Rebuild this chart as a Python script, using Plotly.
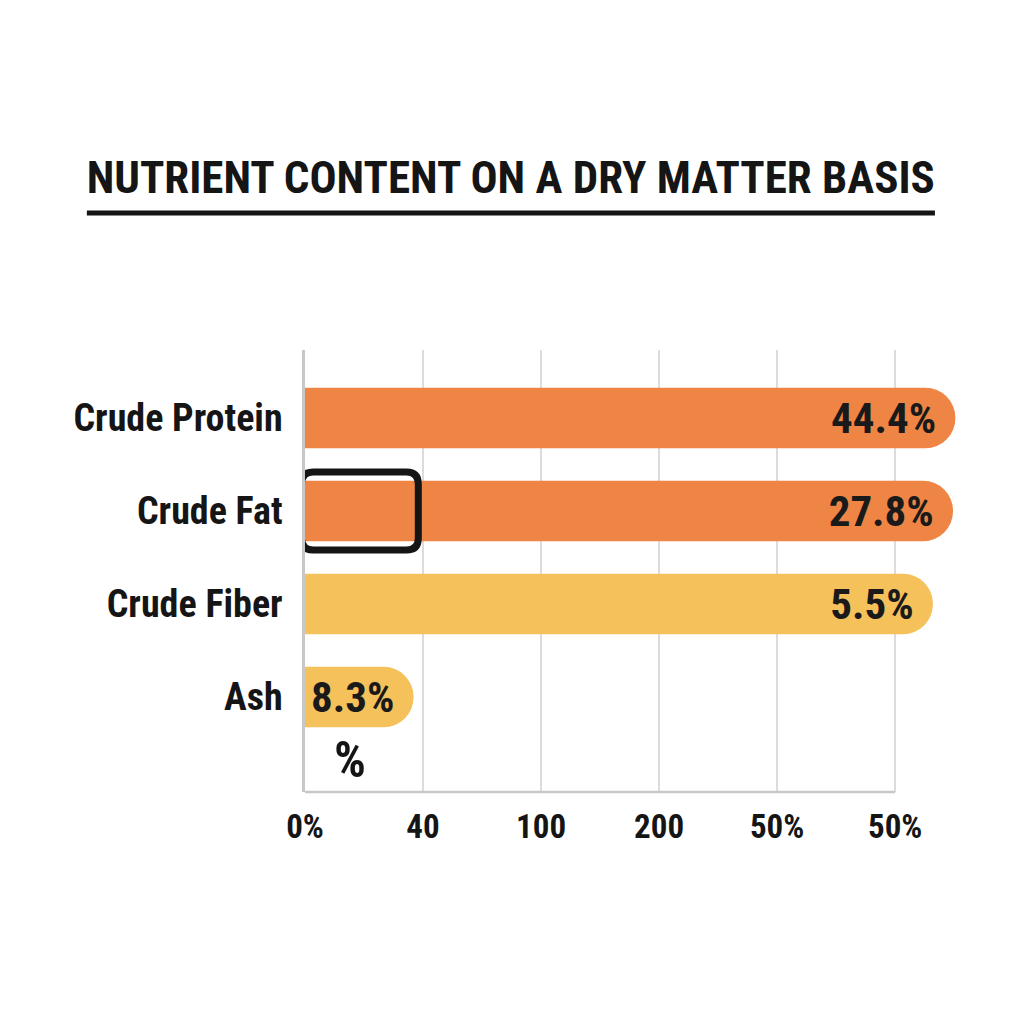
"""
Nutrient content on a dry matter basis - horizontal pill bars.
"""

import plotly.graph_objects as go

# DATA
categories = ["Crude Protein", "Crude Fat", "Crude Fiber", "Ash"]
bar_lengths = [5.51, 5.49, 5.32, 0.92]          # bar ends, read in gridline units
value_labels = ["44.4%", "27.8%", "5.5%", "8.3%"]
bar_colors = ["#EE8544", "#EE8544", "#F5C15B", "#F5C15B"]
tick_positions = [0, 1, 2, 3, 4, 5]
tick_labels = ["0%", "40", "100", "200", "50%", "50%"]

FONT = "Roboto Condensed, Liberation Sans Narrow, Roboto, sans-serif"

fig = go.Figure(go.Bar(
    y=categories,
    x=bar_lengths,
    orientation="h",
    width=0.65,
    marker=dict(color=bar_colors, line=dict(width=0), cornerradius="50%"),
    text=value_labels,
    textposition="inside",
    insidetextanchor="end",
    textfont=dict(family=FONT, size=43, color="#1a1a1a", weight="bold"),
    hoverinfo="skip",
))

# highlight box round the start of the Crude Fat bar
x0, x1, y0, y1 = -0.03, 0.96, 0.58, 1.42
rx, ry = 0.1, 0.13
box = (f"M {x0+rx},{y0} L {x1-rx},{y0} Q {x1},{y0} {x1},{y0+ry} "
       f"L {x1},{y1-ry} Q {x1},{y1} {x1-rx},{y1} L {x0+rx},{y1} "
       f"Q {x0},{y1} {x0},{y1-ry} L {x0},{y0+ry} Q {x0},{y0} {x0+rx},{y0} Z")
fig.add_shape(type="path", path=box, xref="x", yref="y",
              line=dict(color="#151515", width=7), fillcolor="rgba(0,0,0,0)")

# bottom axis line stops at the last gridline
fig.add_shape(type="line", xref="x", yref="paper", x0=0, x1=5, y0=0, y1=0,
              line=dict(color="#c8c8c8", width=2.5))

# title underline
fig.add_shape(type="line", xref="paper", yref="paper", x0=-0.33, x1=0.953,
              y0=1.31, y1=1.31, line=dict(color="#151515", width=5))

# stray "%" under the Ash bar
fig.add_annotation(x=0.38, y=3.68, xref="x", yref="y", text="%", showarrow=False,
                   font=dict(family=FONT, size=50, color="#151515", weight="bold"))

fig.update_layout(
    width=1024, height=1024,
    paper_bgcolor="white", plot_bgcolor="white",
    margin=dict(l=297, r=66, t=342, b=240),
    showlegend=False,
    title=dict(text="NUTRIENT CONTENT ON A DRY MATTER BASIS",
               x=0.491, xanchor="center", y=0.835, yanchor="middle",
               font=dict(family=FONT, size=45, color="#151515", weight="bold")),
    xaxis=dict(range=[0, 5.6], tickvals=tick_positions, ticktext=tick_labels,
               showgrid=True, gridcolor="#dcdcdc", gridwidth=1.5,
               zeroline=False, showline=False, ticks="",
               ticklabelstandoff=12,
               tickfont=dict(family=FONT, size=33, color="#151515", weight="bold")),
    yaxis=dict(type="category", categoryarray=categories, range=[4.02, -0.73],
               showgrid=False, zeroline=False, showline=True,
               linecolor="#c8c8c8", linewidth=2.5, ticks="",
               ticklabelstandoff=12,
               tickfont=dict(family=FONT, size=38, color="#151515", weight="bold")),
)

fig.write_html("out.html")
